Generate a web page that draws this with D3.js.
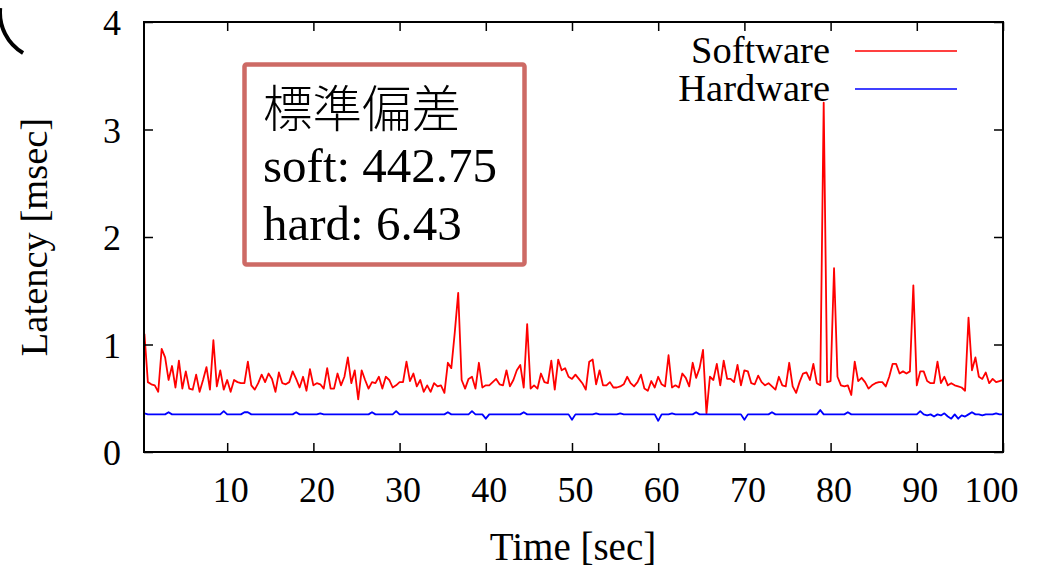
<!DOCTYPE html>
<html>
<head>
<meta charset="utf-8">
<script src="https://cdn.jsdelivr.net/npm/d3@7"></script>
<style>
  body { margin: 0; background: #fff; }
  svg { display: block; }
  text { font-family: "Liberation Serif", "Times New Roman", serif; fill: #000; }
</style>
</head>
<body>
<script>
// sample period of both traces [sec]
const step = 0.4

// software latency [msec], one value per sample
const software = [
  1.10,0.65,0.63,0.62,0.56,0.96,0.88,0.67,0.80,0.60,
  0.85,0.59,0.75,0.59,0.58,0.72,0.56,0.67,0.79,0.58,
  1.04,0.61,0.76,0.58,0.67,0.56,0.67,0.65,0.64,0.64,
  0.84,0.62,0.58,0.64,0.72,0.65,0.73,0.68,0.56,0.74,
  0.64,0.63,0.65,0.75,0.68,0.60,0.70,0.57,0.77,0.62,
  0.64,0.63,0.59,0.78,0.59,0.59,0.73,0.62,0.70,0.88,
  0.64,0.76,0.49,0.76,0.67,0.59,0.65,0.64,0.70,0.59,
  0.70,0.67,0.60,0.62,0.65,0.65,0.84,0.66,0.73,0.61,
  0.67,0.56,0.62,0.56,0.64,0.61,0.62,0.55,0.83,0.78,
  1.11,1.48,0.67,0.59,0.68,0.70,0.59,0.83,0.60,0.62,
  0.62,0.65,0.68,0.63,0.62,0.76,0.61,0.67,0.76,0.81,
  0.60,1.19,0.59,0.62,0.59,0.73,0.65,0.64,0.85,0.58,
  0.86,0.76,0.78,0.70,0.68,0.72,0.68,0.64,0.58,0.84,
  0.86,0.63,0.76,0.62,0.62,0.65,0.60,0.60,0.61,0.63,
  0.70,0.64,0.61,0.65,0.72,0.59,0.57,0.66,0.60,0.70,
  0.63,0.61,0.90,0.60,0.62,0.60,0.73,0.69,0.61,0.83,
  0.69,0.78,0.95,0.36,0.70,0.67,0.82,0.62,0.85,0.68,
  0.68,0.65,0.81,0.62,0.76,0.75,0.64,0.63,0.71,0.65,
  0.62,0.64,0.61,0.58,0.70,0.62,0.61,0.83,0.61,0.55,
  0.65,0.73,0.74,0.67,0.82,0.64,0.62,3.25,0.65,0.66,
  1.71,0.70,0.62,0.61,0.62,0.53,0.84,0.66,0.69,0.65,
  0.59,0.62,0.64,0.65,0.65,0.61,0.70,0.82,0.82,0.73,
  0.75,0.73,0.75,1.55,0.62,0.75,0.75,0.66,0.64,0.64,
  0.84,0.64,0.70,0.62,0.64,0.62,0.61,0.60,0.57,1.25,
  0.76,0.88,0.70,0.68,0.74,0.64,0.68,0.65,0.66,0.67
]

// hardware latency [msec]
const hardware = [
  0.36,0.35,0.35,0.35,0.35,0.35,0.35,0.37,0.35,0.35,
  0.35,0.35,0.35,0.35,0.35,0.35,0.35,0.35,0.35,0.35,
  0.35,0.35,0.35,0.38,0.35,0.35,0.35,0.35,0.35,0.37,
  0.37,0.35,0.35,0.35,0.35,0.35,0.35,0.35,0.35,0.35,
  0.35,0.35,0.35,0.35,0.37,0.35,0.35,0.35,0.35,0.35,
  0.35,0.36,0.35,0.35,0.35,0.35,0.35,0.35,0.35,0.35,
  0.35,0.35,0.35,0.35,0.35,0.35,0.37,0.35,0.35,0.35,
  0.35,0.35,0.35,0.38,0.35,0.35,0.35,0.35,0.35,0.35,
  0.35,0.35,0.35,0.35,0.35,0.35,0.35,0.35,0.37,0.35,
  0.35,0.35,0.35,0.35,0.35,0.38,0.35,0.35,0.35,0.31,
  0.35,0.35,0.35,0.35,0.35,0.35,0.35,0.35,0.35,0.35,
  0.37,0.35,0.35,0.35,0.35,0.35,0.35,0.35,0.35,0.35,
  0.35,0.35,0.35,0.35,0.30,0.35,0.35,0.35,0.35,0.35,
  0.35,0.36,0.35,0.35,0.35,0.35,0.35,0.35,0.36,0.35,
  0.35,0.35,0.35,0.35,0.35,0.35,0.35,0.35,0.35,0.29,
  0.35,0.35,0.35,0.36,0.35,0.35,0.35,0.35,0.35,0.35,
  0.37,0.35,0.35,0.35,0.35,0.35,0.35,0.35,0.35,0.35,
  0.35,0.35,0.35,0.35,0.30,0.35,0.35,0.35,0.35,0.35,
  0.35,0.35,0.37,0.35,0.35,0.35,0.35,0.35,0.35,0.35,
  0.35,0.35,0.35,0.35,0.35,0.35,0.39,0.35,0.35,0.35,
  0.35,0.35,0.35,0.35,0.37,0.35,0.35,0.35,0.35,0.35,
  0.35,0.35,0.35,0.35,0.35,0.35,0.35,0.35,0.35,0.35,
  0.35,0.35,0.35,0.35,0.35,0.38,0.35,0.34,0.35,0.33,
  0.35,0.34,0.36,0.33,0.31,0.35,0.31,0.34,0.33,0.35,
  0.37,0.35,0.35,0.34,0.35,0.35,0.35,0.36,0.35,0.35
]

const xTicks = [10, 20, 30, 40, 50, 60, 70, 80, 90, 100]
const yTicks = [0, 1, 2, 3, 4]
const seriesNames = ["Software", "Hardware"]
const seriesColors = ["#ff0000", "#0000ff"]
const noteLines = ["標準偏差", "soft: 442.75", "hard: 6.43"]

const width = 1052
const height = 568
const mLeft = 144, mRight = 1003, mTop = 22, mBottom = 452

const svg = d3.select("body").append("svg")
    .attr("width", width)
    .attr("height", height)

const x = d3.scaleLinear().domain([0.35, 100]).range([mLeft, mRight])
const y = d3.scaleLinear().domain([0, 4]).range([mBottom, mTop])

// bit of a cut-off glyph in the top-left corner
const arc = d3.path()
arc.arc(47, 12.5, 47, Math.PI * 1.03, Math.PI * 0.67, true)
svg.append("path").attr("d", arc.toString())
    .attr("fill", "none").attr("stroke", "#000").attr("stroke-width", 4)

// data lines
const series = [software, hardware]
const line = d3.line()
    .x((d, i) => x(step * (i + 1)))
    .y(d => y(d))

const plot = svg.append("g")
series.forEach((s, k) => {
    plot.append("path")
        .datum(s)
        .attr("fill", "none")
        .attr("stroke", seriesColors[k])
        .attr("stroke-width", 1.8)
        .attr("stroke-linejoin", "round")
        .attr("d", line)
})

// axes, ticks point inwards on all four sides
function styleAxis(g) {
    g.select(".domain").remove()
    g.selectAll(".tick line").attr("stroke", "#000").attr("stroke-width", 1.5)
}
svg.append("g")
    .attr("transform", "translate(0," + mBottom + ")")
    .call(d3.axisBottom(x).tickValues(xTicks).tickSize(-9).tickFormat(d => d))
    .call(styleAxis)
    .call(g => g.selectAll(".tick text")
        .attr("y", 50).attr("dy", 0).attr("dx", d => d === 100 ? -12 : 3)
        .style("font-size", "36px").style("font-family", "Liberation Serif"))
svg.append("g")
    .attr("transform", "translate(0," + mTop + ")")
    .call(d3.axisTop(x).tickValues(xTicks).tickSize(-9).tickFormat(""))
    .call(styleAxis)
svg.append("g")
    .attr("transform", "translate(" + mLeft + ",0)")
    .call(d3.axisLeft(y).tickValues(yTicks).tickSize(-9).tickFormat(d => d))
    .call(styleAxis)
    .call(g => g.selectAll(".tick text")
        .attr("x", -23).attr("dy", "0.35em")
        .style("font-size", "36px").style("font-family", "Liberation Serif"))
svg.append("g")
    .attr("transform", "translate(" + mRight + ",0)")
    .call(d3.axisRight(y).tickValues(yTicks).tickSize(-9).tickFormat(""))
    .call(styleAxis)

svg.append("rect")
    .attr("x", mLeft).attr("y", mTop)
    .attr("width", mRight - mLeft).attr("height", mBottom - mTop)
    .attr("fill", "none").attr("stroke", "#000").attr("stroke-width", 2)

// axis titles
svg.append("text")
    .attr("x", 573).attr("y", 560)
    .attr("text-anchor", "middle")
    .style("font-size", "39px")
    .text("Time [sec]")
svg.append("text")
    .attr("transform", "translate(47,237) rotate(-90)")
    .attr("text-anchor", "middle")
    .style("font-size", "38.5px")
    .text("Latency [msec]")

// legend
const legend = svg.append("g")
seriesNames.forEach((name, k) => {
    const ly = 51 + k * 38
    legend.append("text")
        .attr("x", 830).attr("y", ly + 12)
        .attr("text-anchor", "end")
        .style("font-size", "38.5px")
        .text(name)
    legend.append("line")
        .attr("x1", 855).attr("x2", 957)
        .attr("y1", ly).attr("y2", ly)
        .attr("stroke", seriesColors[k]).attr("stroke-width", 1.5)
})

// standard deviation note
svg.append("rect")
    .attr("x", 244.5).attr("y", 64.5)
    .attr("width", 280).attr("height", 200)
    .attr("rx", 2)
    .attr("fill", "#fff")
    .attr("stroke", "#cd6a65").attr("stroke-width", 4.5)
noteLines.forEach((t, i) => {
    svg.append("text")
        .attr("x", 263)
        .attr("y", [127, 182, 240][i])
        .style("font-size", i === 0 ? "49.5px" : "49px")
        .style("font-weight", i === 0 ? 300 : 400)
        .style("font-family", i === 0 ? "'Noto Sans CJK JP'" : "Liberation Serif")
        .text(t)
})
</script>
</body>
</html>
